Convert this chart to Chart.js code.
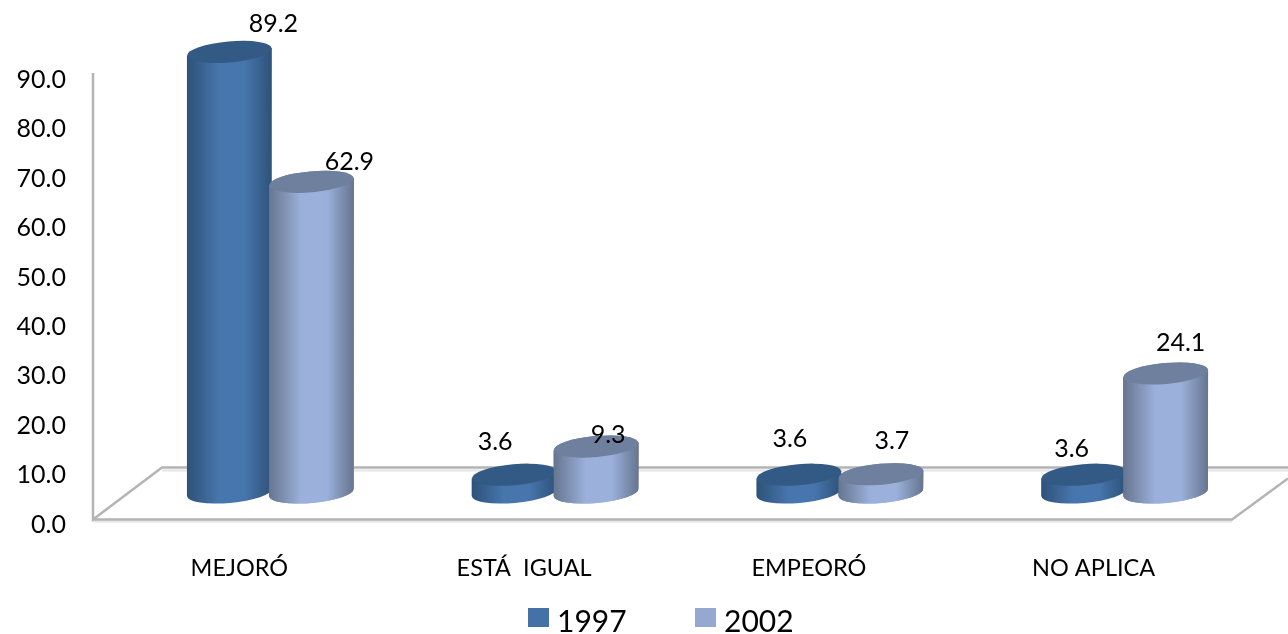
<!DOCTYPE html>
<html>
<head>
<meta charset="utf-8">
<script src="https://cdn.jsdelivr.net/npm/chart.js@4"></script>
<style>
  html, body { margin: 0; padding: 0; background: #fff; }
  #wrap { width: 1288px; height: 634px; }
</style>
</head>
<body>
<div id="wrap"><canvas id="chart" width="1288" height="634"></canvas></div>
<script>
// Chart data
const categories = ['MEJORÓ', 'ESTÁ  IGUAL', 'EMPEORÓ', 'NO APLICA'];
const values1997 = [89.2, 3.6, 3.6, 3.6];
const values2002 = [62.9, 9.3, 3.7, 24.1];
const yTicks = [0, 10, 20, 30, 40, 50, 60, 70, 80, 90];

// Where each value label sits, relative to the top of its cylinder
const labelOffsets1997 = [[44, -28], [-19, -33], [-9, -36], [-12, -26]];
const labelOffsets2002 = [[38, -20], [12, -12], [11, -33], [15, -31]];

// Fake 3D: the floor runs back by this much, cylinders stand half way.
// The floor corner sits a little up and left of the scale's zero, as in the original.
const floorDepth = { x: 69, y: 52 };
const floorCorner = { x: -4, y: -5 };
const barShift = { x: 31, y: -32 };
const FONT = 'Lato, "Open Sans", sans-serif';

const palette = {
    '1997': { swatch: '#4472a8', dark: '#2e5279', mid: '#4775ad', top: '#335a85' },
    '2002': { swatch: '#95a9d0', dark: '#66758f', mid: '#9bb1dc', top: '#6f809e' }
};

// Bar element that paints itself as a tilted cylinder
class CylinderElement extends Chart.BarElement {
    draw(ctx) {
        const { x, y, base, width } = this.getProps(['x', 'y', 'base', 'width'], true);
        const colors = this.options.cylinder;
        const rx = width / 2, ry = 10.5, tilt = -5 * Math.PI / 180;
        const lift = rx * Math.sin(-tilt);
        ctx.save();
        ctx.translate(barShift.x, barShift.y);

        const grad = ctx.createLinearGradient(x - rx, 0, x + rx, 0);
        grad.addColorStop(0, colors.dark);
        grad.addColorStop(0.38, colors.mid);
        grad.addColorStop(0.68, colors.mid);
        grad.addColorStop(1, colors.dark);

        ctx.beginPath();
        ctx.moveTo(x - rx, y + lift);
        ctx.lineTo(x - rx, base + lift);
        ctx.ellipse(x, base, rx, ry, tilt, Math.PI, 0, true);
        ctx.lineTo(x + rx, y - lift);
        ctx.closePath();
        ctx.fillStyle = grad;
        ctx.fill();

        ctx.beginPath();
        ctx.ellipse(x, y, rx, ry, tilt, 0, Math.PI * 2);
        ctx.fillStyle = colors.top;
        ctx.fill();
        ctx.restore();
    }
}
CylinderElement.id = 'cylinderBar';
CylinderElement.defaults = { ...Chart.BarElement.defaults, cylinder: null };

class CylinderController extends Chart.BarController {}
CylinderController.id = 'cylinder';
CylinderController.defaults = { ...Chart.BarController.defaults, dataElementType: 'cylinderBar' };
CylinderController.overrides = Chart.BarController.overrides;

Chart.register(CylinderElement, CylinderController);

// Floor and back wall lines behind the bars
const floorPlugin = {
    id: 'floor',
    beforeDatasetsDraw(chart) {
        const { ctx, chartArea: a, width } = chart;
        const left = a.left + floorCorner.x, right = a.right + floorCorner.x;
        const bottom = a.bottom + floorCorner.y;
        const backY = bottom - floorDepth.y;
        const backX = left + floorDepth.x;
        const line = (pts, color, lw) => {
            ctx.beginPath();
            pts.forEach((p, i) => i ? ctx.lineTo(p[0], p[1]) : ctx.moveTo(p[0], p[1]));
            ctx.strokeStyle = color;
            ctx.lineWidth = lw;
            ctx.stroke();
        };
        ctx.save();
        // soft shadow first
        line([[backX, backY + 3], [width, backY + 3]], '#e4e4e4', 2);
        line([[left, bottom + 2], [right, bottom + 2]], '#e4e4e4', 2);
        line([[left, a.top - 7], [left, bottom], [backX, backY], [width, backY]], '#b4b4b4', 2.5);
        line([[left, bottom], [right, bottom], [width, bottom - 41]], '#b4b4b4', 2.5);
        ctx.restore();
    },
    // 2002 stands in front of 1997, the library paints the first dataset last
    afterDatasetsDraw(chart) {
        chart.getDatasetMeta(1).data.forEach(bar => bar.draw(chart.ctx));
    }
};

// Value labels above the cylinders, and the legend under the chart
const textPlugin = {
    id: 'texts',
    afterDraw(chart) {
        const { ctx } = chart;
        ctx.save();
        ctx.fillStyle = '#000';
        ctx.textAlign = 'center';
        ctx.textBaseline = 'middle';
        ctx.font = '25px ' + FONT;
        [labelOffsets1997, labelOffsets2002].forEach((offsets, d) => {
            chart.getDatasetMeta(d).data.forEach((bar, i) => {
                const v = chart.data.datasets[d].data[i];
                ctx.fillText(v.toFixed(1), bar.x + barShift.x + offsets[i][0], bar.y + barShift.y + offsets[i][1]);
            });
        });
        ctx.textAlign = 'left';
        ctx.font = '30px ' + FONT;
        [528, 695].forEach((lx, d) => {
            const set = chart.data.datasets[d];
            ctx.fillStyle = set.backgroundColor;
            ctx.fillRect(lx, 608, 21, 19);
            ctx.fillStyle = '#000';
            ctx.fillText(set.label, lx + 29, 622);
        });
        ctx.restore();
    }
};

function makeDataset(label, data) {
    return {
        label: label,
        data: data,
        clip: false,
        backgroundColor: palette[label].swatch,
        cylinder: palette[label],
        categoryPercentage: 0.576,
        barPercentage: 1.035
    };
}

new Chart(document.getElementById('chart'), {
    type: 'cylinder',
    data: {
        labels: categories,
        datasets: [makeDataset('1997', values1997), makeDataset('2002', values2002)]
    },
    options: {
        responsive: false,
        animation: false,
        layout: { padding: { top: 80, right: 52, left: 0, bottom: 0 } },
        plugins: { legend: { display: false }, tooltip: { enabled: false }, title: { display: false } },
        scales: {
            x: {
                type: 'category',
                offset: true,
                grid: { display: false },
                border: { display: false },
                ticks: { color: '#000', font: { family: FONT, size: 23.5 }, padding: 21.5, maxRotation: 0 },
                afterFit: scale => { scale.height = 109.5; }
            },
            y: {
                min: 0,
                max: 90,
                grid: { display: false },
                border: { display: false },
                afterFit: scale => { scale.width = 97; },
                afterBuildTicks: scale => { scale.ticks = yTicks.map(v => ({ value: v })); },
                ticks: {
                    color: '#000',
                    font: { family: FONT, size: 25 },
                    padding: 23,
                    callback: v => v.toFixed(1)
                }
            }
        }
    },
    plugins: [floorPlugin, textPlugin]
});
</script>
</body>
</html>
